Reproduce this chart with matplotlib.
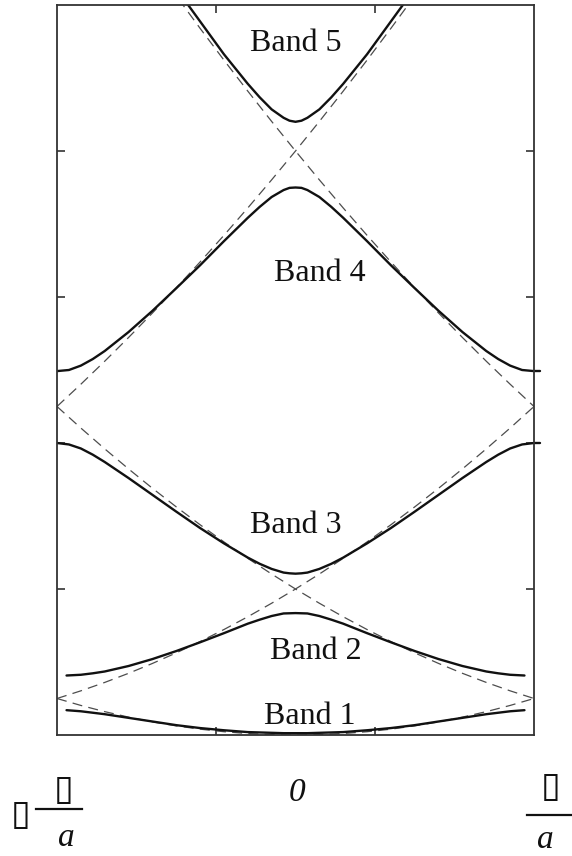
import numpy as np
import matplotlib.pyplot as plt
from matplotlib.lines import Line2D

# wave vector in units of pi/a, energy in free-electron units
k_half_12 = [0, 0.05, 0.1, 0.15, 0.2, 0.3, 0.4, 0.5, 0.6, 0.7, 0.8, 0.85, 0.9, 0.96]
band1_half = [0.05, 0.05, 0.06, 0.07, 0.08, 0.13, 0.19, 0.27, 0.37, 0.47, 0.57, 0.61, 0.65, 0.68]
band2_half = [3.34, 3.33, 3.26, 3.16, 3.05, 2.79, 2.54, 2.30, 2.08, 1.89, 1.74, 1.69, 1.65, 1.63]

k_half_345 = [0, 0.025, 0.05, 0.1, 0.15, 0.2, 0.3, 0.4, 0.5, 0.6, 0.7, 0.8, 0.85, 0.9, 0.95, 1.0]
band3_half = [4.42, 4.43, 4.45, 4.55, 4.69, 4.86, 5.25, 5.67, 6.12, 6.58, 7.04, 7.48, 7.68, 7.85, 7.96, 8.00]
band4_half = [15.00, 14.99, 14.93, 14.74, 14.47, 14.17, 13.53, 12.87, 12.24, 11.62, 11.04, 10.52, 10.30, 10.12, 10.00, 9.97]

k_half_5 = [0, 0.025, 0.05, 0.1, 0.15, 0.2, 0.3, 0.4, 0.5]
band5_half = [16.80, 16.83, 16.91, 17.14, 17.47, 17.84, 18.65, 19.55, 20.45]

# free electron parabolas folded into the first zone
k_free = [-1.0, -0.9, -0.8, -0.7, -0.6, -0.5, -0.4, -0.3, -0.2, -0.1, 0.0,
          0.1, 0.2, 0.3, 0.4, 0.5, 0.6, 0.7, 0.8, 0.9, 1.0]
free_g0 = [1.00, 0.81, 0.64, 0.49, 0.36, 0.25, 0.16, 0.09, 0.04, 0.01, 0.00,
           0.01, 0.04, 0.09, 0.16, 0.25, 0.36, 0.49, 0.64, 0.81, 1.00]
free_g2 = [1.00, 1.21, 1.44, 1.69, 1.96, 2.25, 2.56, 2.89, 3.24, 3.61, 4.00,
           4.41, 4.84, 5.29, 5.76, 6.25, 6.76, 7.29, 7.84, 8.41, 9.00]
free_g4 = [9.00, 9.61, 10.24, 10.89, 11.56, 12.25, 12.96, 13.69, 14.44, 15.21, 16.00,
           16.81, 17.64, 18.49, 19.36, 20.25, 21.16, 22.09, 23.04, 24.01, 25.00]

band_labels = ['Band 1', 'Band 2', 'Band 3', 'Band 4', 'Band 5']
label_k = [0.06, 0.085, 0.0, 0.10, 0.0]
label_e = [0.30, 2.08, 5.53, 12.44, 18.74]


def mirror(k, e):
    # bands are symmetric in k, so build the full curve from k >= 0
    k = np.asarray(k)
    e = np.asarray(e)
    return np.concatenate([-k[:0:-1], k]), np.concatenate([e[:0:-1], e])


W, H = 572, 856
fig = plt.figure(figsize=(W / 100, H / 100), dpi=100)
ax = fig.add_axes([57 / W, 1 - 735 / H, (534 - 57) / W, (735 - 5) / H])

dash_kw = dict(color='#4d4d4d', lw=0.9, dashes=(8, 5))
ax.plot(k_free, free_g0, **dash_kw)
ax.plot(k_free, free_g2, **dash_kw)
ax.plot(k_free, free_g2[::-1], **dash_kw)
ax.plot(k_free, free_g4, **dash_kw)
ax.plot(k_free, free_g4[::-1], **dash_kw)

solid_kw = dict(color='#111111', lw=1.7, solid_capstyle='round')
for kh, eh in [(k_half_12, band1_half), (k_half_12, band2_half),
               (k_half_345, band3_half), (k_half_345, band4_half),
               (k_half_5, band5_half)]:
    kk, ee = mirror(kh, eh)
    ax.plot(kk, ee, **solid_kw)

# bands 3 and 4 run a little past the right edge
for eh in [band3_half, band4_half]:
    ax.plot([1.0, 1.025], [eh[-1], eh[-1]], clip_on=False, **solid_kw)

for txt, x, y in zip(band_labels, label_k, label_e):
    ax.text(x, y, txt, ha='center', va='baseline', fontsize=23,
            family='Liberation Serif', color='#111111')

ax.set_xlim(-1, 1)
ax.set_ylim(0, 20)
ax.set_xticks([-1 / 3, 1 / 3])
ax.set_yticks([4, 8, 12, 16])
ax.tick_params(direction='in', length=6, width=1.2, color='#333333',
               top=True, right=True, labelbottom=False, labelleft=False)
for s in ax.spines.values():
    s.set_color('#333333')
    s.set_linewidth(1.3)


def ftext(x, y, s, **kw):
    fig.text(x / W, 1 - y / H, s, ha='center', va='center', **kw)


def fbar(x0, x1, y):
    fig.add_artist(Line2D([x0 / W, x1 / W], [1 - y / H, 1 - y / H],
                          color='#111111', lw=1.6))


box = '\u25af'
serif_it = dict(family='Liberation Serif', style='italic', fontsize=24, color='#111111')

# -pi/a
ftext(21, 815, box, family='DejaVu Sans', fontsize=26, color='#111111')
fbar(36, 82, 809)
ftext(64, 790, box, family='DejaVu Sans', fontsize=26, color='#111111')
ftext(66, 838, 'a', **serif_it)

# 0
ftext(297, 793, '0', **serif_it)

# pi/a
fbar(527, 572, 815)
ftext(551, 787, box, family='DejaVu Sans', fontsize=26, color='#111111')
ftext(545, 840, 'a', **serif_it)

fig.savefig('out.png', dpi=100)
